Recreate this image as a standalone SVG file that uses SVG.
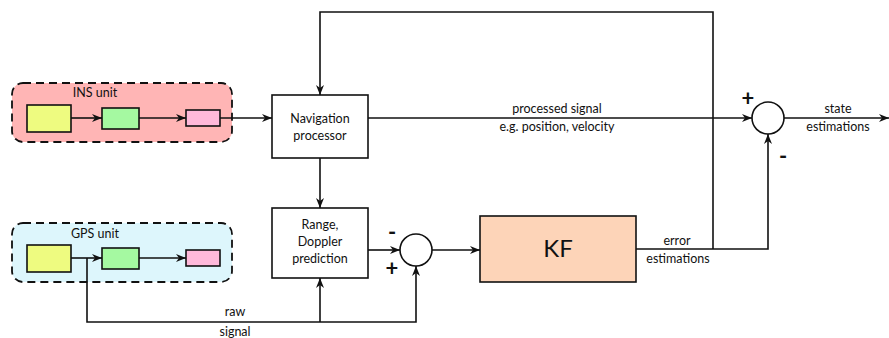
<svg xmlns="http://www.w3.org/2000/svg" width="889" height="338" viewBox="0 0 889 338">
<defs>
<marker id="arr" viewBox="0 0 10 10" refX="10" refY="5" markerWidth="10" markerHeight="10" markerUnits="userSpaceOnUse" orient="auto">
<path d="M0,1 L10,5 L0,9 L3,5 Z" fill="#111"/>
</marker>
</defs>
<style>
.ln{fill:none;stroke:#111;stroke-width:1.6}
.box{stroke:#111;stroke-width:1.6}
.unit{stroke:#111;stroke-width:1.8;stroke-dasharray:8,5}
text{font-family:"Lato","Open Sans","DejaVu Sans",sans-serif;fill:#111}
.t{font-size:12.5px;text-anchor:middle}
.s{font-size:22px;font-weight:bold;text-anchor:middle}
</style>
<g id="ins">
<rect class="unit" x="12" y="83" width="220" height="59" rx="11" fill="#FFB5B5"/>
<text class="t" x="95" y="97">INS unit</text>
<rect class="box" x="27" y="105" width="44" height="27" fill="#EEFB80"/>
<rect class="box" x="102" y="108" width="37" height="21" fill="#A5F9A1"/>
<rect class="box" x="186" y="110" width="34" height="16" fill="#FFB9DA"/>
</g>
<g id="gps">
<rect class="unit" x="12" y="223" width="220" height="59" rx="11" fill="#DDF6FC"/>
<text class="t" x="95" y="238">GPS unit</text>
<rect class="box" x="27" y="245" width="44" height="27" fill="#EEFB80"/>
<rect class="box" x="102" y="248" width="37" height="21" fill="#A5F9A1"/>
<rect class="box" x="186" y="250" width="34" height="16" fill="#FFB9DA"/>
</g>
<g id="nav">
<rect class="box" x="272" y="95" width="96" height="63" fill="#fff"/>
<text class="t" x="320" y="123">Navigation</text>
<text class="t" x="320" y="140">processor</text>
</g>
<g id="range">
<rect class="box" x="272" y="208" width="96" height="70" fill="#fff"/>
<text class="t" x="320" y="229">Range,</text>
<text class="t" x="320" y="246">Doppler</text>
<text class="t" x="320" y="263">prediction</text>
</g>
<g id="sum1">
<circle class="box" cx="416" cy="250" r="16" fill="#fff"/>
<text class="s" x="392" y="240">-</text>
<text class="s" x="392" y="276">+</text>
</g>
<g id="kf">
<rect class="box" x="480" y="216" width="156" height="66" fill="#FDD4B8"/>
<text x="558" y="257" style="font-size:24px;text-anchor:middle">KF</text>
</g>
<g id="sum2">
<circle class="box" cx="768" cy="118" r="16" fill="#fff"/>
<text class="s" x="748" y="106">+</text>
<text class="s" x="783" y="164">-</text>
</g>
<g id="connectors">
<line class="ln" x1="71" y1="118" x2="102" y2="118" marker-end="url(#arr)"/>
<line class="ln" x1="139" y1="118" x2="186" y2="118" marker-end="url(#arr)"/>
<line class="ln" x1="220" y1="118" x2="272" y2="118" marker-end="url(#arr)"/>
<line class="ln" x1="71" y1="258" x2="102" y2="258" marker-end="url(#arr)"/>
<line class="ln" x1="139" y1="258" x2="186" y2="258" marker-end="url(#arr)"/>
<polyline class="ln" points="87,258 87,322 416,322 416,266" marker-end="url(#arr)"/>
<line class="ln" x1="320" y1="322" x2="320" y2="278" marker-end="url(#arr)"/>
<line class="ln" x1="320" y1="158" x2="320" y2="208" marker-end="url(#arr)"/>
<line class="ln" x1="368" y1="250" x2="400" y2="250" marker-end="url(#arr)"/>
<line class="ln" x1="432" y1="250" x2="480" y2="250" marker-end="url(#arr)"/>
<line class="ln" x1="368" y1="118" x2="752" y2="118" marker-end="url(#arr)"/>
<polyline class="ln" points="713,249 713,12 320,12 320,95" marker-end="url(#arr)"/>
<polyline class="ln" points="636,249 768,249 768,134" marker-end="url(#arr)"/>
<line class="ln" x1="784" y1="118" x2="889" y2="118" marker-end="url(#arr)"/>
<text class="t" x="235" y="316">raw</text>
<text class="t" x="235" y="336">signal</text>
<text class="t" x="557" y="113">processed signal</text>
<text class="t" x="557" y="131">e.g. position, velocity</text>
<text class="t" x="677" y="245">error</text>
<text class="t" x="678" y="263">estimations</text>
<text class="t" x="838" y="113">state</text>
<text class="t" x="838" y="131">estimations</text>
</g>
</svg>
